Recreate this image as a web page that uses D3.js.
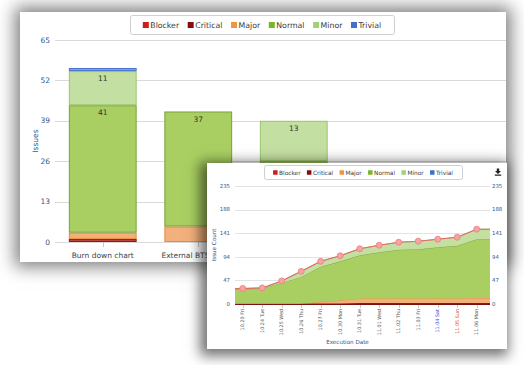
<!DOCTYPE html>
<html>
<head>
<meta charset="utf-8">
<script src="https://cdn.jsdelivr.net/npm/d3@7"></script>
<style>
  body { margin: 0; width: 524px; height: 365px; background: #fff; overflow: hidden; position: relative;
         font-family: "DejaVu Sans", Verdana, sans-serif; }
  .panel { position: absolute; background: #fff; overflow: hidden; }
  .panel svg { position: absolute; }
  #p1 { box-shadow: 0 0 16px 5px rgba(0,0,0,0.5); }
  #p2 { box-shadow: -3px 3px 12px 4px rgba(0,0,0,0.55); }
</style>
</head>
<body>
<div class="panel" id="p1"><svg id="bars"></svg></div>
<div class="panel" id="p2"><svg id="area"></svg></div>
<script>
// severities and colours
const severities = ["Blocker", "Critical", "Major", "Normal", "Minor", "Trivial"];
const legendColors = ["#cc1f1a", "#8b0a0a", "#f0943f", "#78b52a", "#a3cf7a", "#3f6fd0"];
const fillColors = ["#b9473f", "#8b1a14", "#f3b07c", "#a9cf62", "#c4dfa2", "#7f9fe3"];
const lineColors = ["#8b1a14", "#6e0f0b", "#ec8a3c", "#78a23a", "#9cc46c", "#4a74cc"];

// background chart: issues per category
const barCategories = ["Burn down chart", "External BTS Issues", "Test plan"];
const barBlocker = [1, 0, 0];
const barCritical = [0, 0, 0];
const barMajor = [2, 5, 2];
const barNormal = [41, 37, 24];
const barMinor = [11, 0, 13];
const barTrivial = [1, 0, 0];
const barTicks = [0, 13, 26, 39, 52, 65];

// front chart: issue count per execution date
const dates = ["10.20 Fri", "10.24 Tue", "10.25 Wed", "10.26 Thu", "10.27 Fri", "10.30 Mon", "10.31 Tue",
  "11.01 Wed", "11.02 Thu", "11.03 Fri", "11.04 Sat", "11.05 Sun", "11.06 Mon"];
const dateBlocker = [0, 0, 0, 0, 0, 0, 1, 1, 1, 1, 1, 1, 1];
const dateCritical = [1, 1, 1, 1, 1, 1, 1, 1, 1, 1, 1, 1, 1];
const dateMajor = [0, 0, 0, 0, 3, 6, 9, 9, 9, 9, 9, 9, 10];
const dateNormal = [29, 30, 41, 53, 70, 78, 86, 92, 97, 98, 102, 105, 117];
const dateMinor = [1, 1, 4, 11, 11, 11, 13, 14, 15, 16, 16, 17, 20];
const dateTrivial = [0, 0, 0, 0, 0, 0, 0, 0, 0, 0, 0, 0, 0];
const countTicks = [0, 47, 94, 141, 188, 235];

const barSeries = [barBlocker, barCritical, barMajor, barNormal, barMinor, barTrivial];
const dateSeries = [dateBlocker, dateCritical, dateMajor, dateNormal, dateMinor, dateTrivial];

const frontBox = { left: 207, top: 163, width: 300, height: 186 };
// texts of the back chart that sit under the front panel are not drawn
const underFront = (x, y) =>
  x > frontBox.left && y > frontBox.top - 4;

// place a panel; its svg keeps page coordinates
function panel(id, svgId, box) {
  d3.select(id)
    .style("left", box.left + "px").style("top", box.top + "px")
    .style("width", box.width + "px").style("height", box.height + "px");
  return d3.select(svgId)
    .attr("width", 524).attr("height", 365)
    .style("left", -box.left + "px").style("top", -box.top + "px");
}

function legend(svg, x, y, w, h, fontSize, sq) {
  svg.append("rect")
    .attr("x", x + 0.5).attr("y", y + 0.5).attr("width", w).attr("height", h)
    .attr("rx", 2).attr("fill", "#fff").attr("stroke", "#cfcfcf");
  const g = svg.append("g");
  let cx = 0;
  severities.forEach((s, i) => {
    const item = g.append("g").attr("transform", "translate(" + cx + ",0)");
    item.append("rect").attr("x", 0).attr("y", -sq / 2).attr("width", sq).attr("height", sq)
      .attr("fill", legendColors[i]);
    const t = item.append("text").attr("x", sq + 1.5).attr("dy", "0.35em")
      .style("font-size", fontSize + "px").attr("fill", "#3a3a3a").text(s);
    cx += sq + 1.5 + t.node().getComputedTextLength() + fontSize * 1.1;
  });
  const total = cx - fontSize * 1.1;
  g.attr("transform", "translate(" + (x + (w - total) / 2) + "," + (y + h / 2 + 0.5) + ")");
}

/*
 ********** background: stacked columns **********
 */
const svg1 = panel("#p1", "#bars", { left: 20, top: 12, width: 486, height: 250 });
const plot1 = { left: 55, right: 506, top: 40, bottom: 242 };

let yBar = d3.scaleLinear().domain([0, 65]).range([plot1.bottom, plot1.top]);
let xBar = d3.scaleBand().domain(barCategories)
  .range([plot1.left, plot1.left + 95.5 * barCategories.length])
  .paddingInner(0.29).paddingOuter(0.145);

svg1.append("g").selectAll("line").data(barTicks).enter().append("line")
  .attr("x1", plot1.left).attr("x2", plot1.right)
  .attr("y1", (d) => Math.round(yBar(d)) + 0.5).attr("y2", (d) => Math.round(yBar(d)) + 0.5)
  .attr("stroke", "#dadada");

svg1.append("g").selectAll("text").data(barTicks).enter().append("text")
  .attr("x", 50).attr("y", (d) => yBar(d)).attr("dy", "0.35em")
  .attr("text-anchor", "end").style("font-size", "7.5px").attr("fill", "#34558a")
  .text((d) => d);

svg1.append("text")
  .attr("transform", "translate(35," + (plot1.top + plot1.bottom) / 2 + ") rotate(-90)")
  .attr("text-anchor", "middle").attr("dy", "0.35em")
  .style("font-size", "7.5px").attr("fill", "#34558a").text("Issues");

const barRows = barCategories.map((c, i) => {
  const row = { category: c };
  severities.forEach((s, k) => (row[s] = barSeries[k][i]));
  return row;
});
const barStack = d3.stack().keys(severities)(barRows);

barStack.forEach((layer, k) => {
  const g = svg1.append("g").attr("class", "layer");
  layer.forEach((d) => {
    const v = d[1] - d[0];
    if (v <= 0) return;
    const x = xBar(d.data.category);
    g.append("rect")
      .attr("x", x + 0.5).attr("y", yBar(d[1]) + 0.5)
      .attr("width", xBar.bandwidth() - 1).attr("height", yBar(d[0]) - yBar(d[1]) - 1)
      .attr("fill", fillColors[k]).attr("stroke", lineColors[k]).attr("stroke-width", 1);
    const lx = x + xBar.bandwidth() / 2, ly = yBar(d[1]) + 7.5;
    if (v >= 10 && !underFront(lx, ly)) {
      g.append("text")
        .attr("x", lx).attr("y", ly).attr("dy", "0.35em")
        .attr("text-anchor", "middle").style("font-size", "7.5px").attr("fill", "#333")
        .text(v);
    }
  });
});

svg1.append("g").selectAll("line").data(barCategories).enter().append("line")
  .attr("x1", (d) => Math.round(xBar(d) + xBar.bandwidth() / 2) + 0.5)
  .attr("x2", (d) => Math.round(xBar(d) + xBar.bandwidth() / 2) + 0.5)
  .attr("y1", plot1.bottom).attr("y2", plot1.bottom + 5).attr("stroke", "#c8c8c8");

svg1.append("g").selectAll("text")
  .data(barCategories.filter((d) => !underFront(xBar(d), plot1.bottom + 13)))
  .enter().append("text")
  .attr("x", (d) => xBar(d) + xBar.bandwidth() / 2).attr("y", plot1.bottom + 13).attr("dy", "0.35em")
  .attr("text-anchor", "middle").style("font-size", "7.5px").attr("fill", "#444")
  .text((d) => d);

legend(svg1, 130, 15, 264, 19, 7.8, 6);

/*
 ********** front: stacked area by date **********
 */
const svg2 = panel("#p2", "#area", frontBox);
const plot2 = { left: 235, right: 490, top: 186, bottom: 304 };

let yCount = d3.scaleLinear().domain([0, 235]).range([plot2.bottom, plot2.top]);
let xDate = d3.scalePoint().domain(dates).range([242.7, 476.7]);

svg2.append("g").selectAll("line").data(countTicks).enter().append("line")
  .attr("x1", plot2.left).attr("x2", plot2.right)
  .attr("y1", (d) => Math.round(yCount(d)) + 0.5).attr("y2", (d) => Math.round(yCount(d)) + 0.5)
  .attr("stroke", "#e3e3e3");

svg2.append("g").selectAll("text").data(countTicks).enter().append("text")
  .attr("x", 230).attr("y", (d) => yCount(d)).attr("dy", "0.35em")
  .attr("text-anchor", "end").style("font-size", "5.4px").attr("fill", "#34558a")
  .text((d) => d);

svg2.append("g").selectAll("text").data(countTicks).enter().append("text")
  .attr("x", 492).attr("y", (d) => yCount(d)).attr("dy", "0.35em")
  .attr("text-anchor", "start").style("font-size", "5.4px").attr("fill", "#34558a")
  .text((d) => d);

const dateRows = dates.map((c, i) => {
  const row = { date: c };
  severities.forEach((s, k) => (row[s] = dateSeries[k][i]));
  return row;
});
const dateStack = d3.stack().keys(severities)(dateRows);

// the areas run out to both edges of the plot
const edgePoints = (layer) => {
  const pts = layer.map((d) => [xDate(d.data.date), d[0], d[1]]);
  const first = pts[0], last = pts[pts.length - 1];
  return [[plot2.left, first[1], first[2]], ...pts, [plot2.right, last[1], last[2]]];
};

let area = d3.area()
  .x((d) => d[0]).y0((d) => yCount(d[1])).y1((d) => yCount(d[2]));
let topLine = d3.line()
  .x((d) => d[0]).y((d) => yCount(d[2]));

dateStack.forEach((layer, k) => {
  const pts = edgePoints(layer);
  svg2.append("path").attr("d", area(pts)).attr("fill", fillColors[k]);
  if (d3.max(layer, (d) => d[1] - d[0]) > 0) {
    svg2.append("path").attr("d", topLine(pts)).attr("fill", "none")
      .attr("stroke", lineColors[k]).attr("stroke-width", k < 2 ? 0.8 : 0.9);
  }
});

// total line with markers
const totals = edgePoints(dateStack[dateStack.length - 1]);
svg2.append("path").attr("d", topLine(totals)).attr("fill", "none")
  .attr("stroke", "#e06a66").attr("stroke-width", 1.1);
svg2.append("g").selectAll("circle").data(dateStack[dateStack.length - 1]).enter().append("circle")
  .attr("cx", (d) => xDate(d.data.date)).attr("cy", (d) => yCount(d[1]))
  .attr("r", 3).attr("fill", "#f6a3a3").attr("stroke", "#ef7d7d").attr("stroke-width", 0.8);

svg2.append("line")
  .attr("x1", plot2.left).attr("x2", plot2.right)
  .attr("y1", plot2.bottom + 0.5).attr("y2", plot2.bottom + 0.5)
  .attr("stroke", "#7a1410").attr("stroke-width", 1);

svg2.append("g").selectAll("line").data(dates).enter().append("line")
  .attr("x1", (d) => Math.round(xDate(d)) + 0.5).attr("x2", (d) => Math.round(xDate(d)) + 0.5)
  .attr("y1", plot2.bottom + 1).attr("y2", plot2.bottom + 4).attr("stroke", "#c8c8c8");

const dayColor = (d) => (d.endsWith("Sat") ? "#3b3fd0" : d.endsWith("Sun") ? "#e23c36" : "#555");
svg2.append("g").selectAll("text").data(dates).enter().append("text")
  .attr("transform", (d) => "translate(" + xDate(d) + "," + (plot2.bottom + 5) + ") rotate(-90)")
  .attr("text-anchor", "end").attr("dy", "0.35em")
  .style("font-size", "4.9px").attr("fill", dayColor)
  .text((d) => d);

svg2.append("text")
  .attr("x", (plot2.left + plot2.right) / 2 - 15).attr("y", 342).attr("dy", "0.35em")
  .attr("text-anchor", "middle").style("font-size", "5.6px").attr("fill", "#34558a")
  .text("Execution Date");

svg2.append("text")
  .attr("transform", "translate(214," + (plot2.top + plot2.bottom) / 2 + ") rotate(-90)")
  .attr("text-anchor", "middle").attr("dy", "0.35em")
  .style("font-size", "5.6px").attr("fill", "#34558a").text("Issue Count");

legend(svg2, 264, 165, 198, 14, 5.8, 4.5);

// download icon
svg2.append("path")
  .attr("transform", "translate(498,172)")
  .attr("d", "M-1.2,-3.5h2.4v2.5h1.8l-3,3l-3,-3h1.8z M-3.2,2.6h6.4v1.2h-6.4z")
  .attr("fill", "#222");
</script>
</body>
</html>
